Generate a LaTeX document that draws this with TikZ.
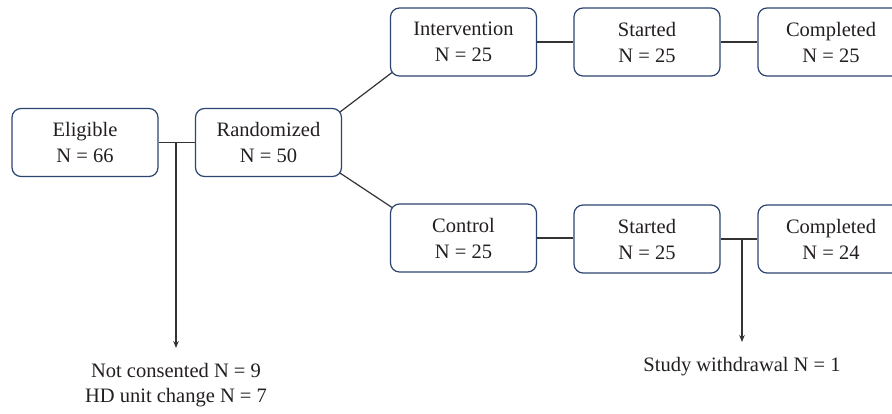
\documentclass[tikz,border=0pt]{standalone}
\usepackage{fontspec}
\setmainfont{Liberation Serif}
\usetikzlibrary{arrows.meta,calc}
\definecolor{boxc}{HTML}{2B4470}
\definecolor{linec}{HTML}{333333}
\definecolor{txtc}{HTML}{231F20}
\begin{document}
\begin{tikzpicture}[x=1pt,y=-1pt,
  box/.style={draw=boxc, line width=1.2pt, rounded corners=9pt, minimum width=146pt, minimum height=68pt, align=center, inner sep=0pt, text=txtc, font=\fontsize{20.5}{26}\selectfont},
  conn/.style={draw=linec, line width=1.2pt},
  arr/.style={conn, -{Stealth[length=7pt,width=5.5pt]}},
  lbl/.style={align=center, inner sep=0pt, text=txtc, font=\fontsize{20.5}{25}\selectfont}]
\clip (0,0) rectangle (892,413);
\node[box] (elig) at (85,142.5) {Eligible\\N = 66};
\node[box] (rand) at (268.5,142.5) {Randomized\\N = 50};
\node[box] (int) at (463.5,42) {Intervention\\N = 25};
\node[box] (st1) at (647,42) {Started\\N = 25};
\node[box] (co1) at (831,42) {Completed\\N = 25};
\node[box] (ctl) at (463.5,238) {Control\\N = 25};
\node[box] (st2) at (647,239) {Started\\N = 25};
\node[box] (co2) at (831,239) {Completed\\N = 24};
\node[lbl] (nc) at (176,385) {Not consented N = 9\\HD unit change N = 7};
\node[lbl] (sw) at (742,367) {Study withdrawal N = 1};
\coordinate (j1) at (176,142.5);
\coordinate (a1) at (176,348);
\coordinate (j2) at (742,239);
\coordinate (a2) at (742,342);
\draw[conn] (elig) -- (rand);
\draw[arr] (j1) -- (a1);
\draw[conn] ($(rand.north east)+(-2,4)$) -- ($(int.south west)+(2,-4)$);
\draw[conn] ($(rand.south east)+(-2,-4)$) -- ($(ctl.north west)+(2,4)$);
\draw[conn] (int) -- (st1);
\draw[conn] (st1) -- (co1);
\draw[conn] (ctl.east) -- (st2.west |- ctl.east);
\draw[conn] (st2) -- (co2);
\draw[arr] (j2) -- (a2);
\end{tikzpicture}
\end{document}
